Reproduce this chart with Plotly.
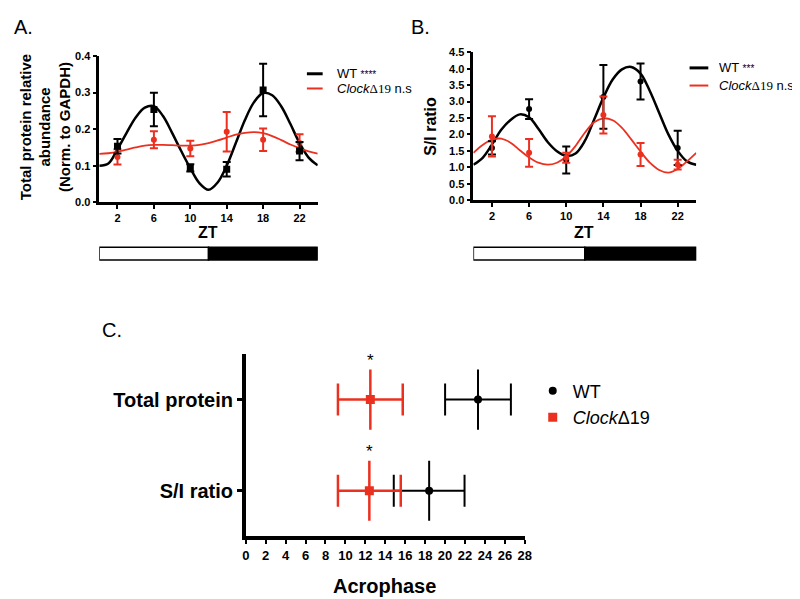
import plotly.graph_objects as go

W, H = 800, 599
RED = "#EC3020"

# ---------------- Panel A data (Total protein relative abundance) ----------------
zt = [2, 6, 10, 14, 18, 22]
a_wt = [0.153, 0.254, 0.094, 0.090, 0.307, 0.140]
a_wt_err = [0.020, 0.046, 0.010, 0.020, 0.072, 0.025]
a_ck = [0.124, 0.171, 0.147, 0.193, 0.171, 0.162]
a_ck_err = [0.021, 0.023, 0.021, 0.054, 0.031, 0.024]

fit_zt = list(range(0, 25))
a_wt_fit = [0.100, 0.106, 0.145, 0.190, 0.232, 0.259, 0.263, 0.236, 0.190, 0.140, 0.093, 0.052,
            0.034, 0.054, 0.100, 0.162, 0.225, 0.274, 0.299, 0.293, 0.262, 0.214, 0.162, 0.122, 0.101]
a_ck_fit = [0.132, 0.134, 0.138, 0.144, 0.150, 0.155, 0.157, 0.157, 0.156, 0.155, 0.155, 0.157,
            0.162, 0.169, 0.177, 0.185, 0.190, 0.192, 0.189, 0.181, 0.170, 0.158, 0.148, 0.139, 0.133]
a_legend = ["WT <span style='font-size:10px'>****</span>",
            "<i>Clock</i><span style='font-family:Liberation Serif'>Δ19</span> n.s"]

# ---------------- Panel B data (S/I ratio) ----------------
b_wt = [1.59, 2.77, 1.22, 3.14, 3.61, 1.59]
b_wt_err = [0.20, 0.30, 0.41, 0.97, 0.55, 0.52]
b_ck = [1.94, 1.44, 1.29, 2.59, 1.39, 1.08]
b_ck_err = [0.61, 0.42, 0.15, 0.56, 0.35, 0.15]

b_wt_fit = [1.08, 1.29, 1.69, 2.14, 2.44, 2.61, 2.52, 2.17, 1.77, 1.49, 1.35, 1.42,
            1.80, 2.45, 3.12, 3.67, 3.98, 4.05, 3.85, 3.32, 2.66, 2.00, 1.50, 1.18, 1.08]
b_ck_fit = [1.44, 1.68, 1.84, 1.87, 1.75, 1.52, 1.30, 1.14, 1.08, 1.14, 1.33, 1.65,
            2.05, 2.37, 2.49, 2.43, 2.20, 1.85, 1.48, 1.14, 0.92, 0.84, 0.95, 1.18, 1.44]
b_legend = ["WT <span style='font-size:10px'>***</span>",
            "<i>Clock</i><span style='font-family:Liberation Serif'>Δ19</span> n.s."]

# light / dark phases
ld_start = [0, 12]
ld_end = [12, 24]
ld_fill = ["white", "black"]

# ---------------- Panel C data (Acrophase) ----------------
c_cats = ["Total protein", "S/I ratio"]
c_pos = [2, 1]
c_wt = [23.3, 18.4]
c_wt_err = [3.3, 3.55]
c_ck = [12.5, 12.4]
c_ck_err = [3.25, 3.15]
c_vbar = [0.33, 0.33]
c_sig = ["*", "*"]

FONT = "Liberation Sans, Arial"
fig = go.Figure()

bold = dict(family=FONT, size=11, color="black", weight="bold")

# Panel A
fig.add_trace(go.Scatter(x=fit_zt, y=a_wt_fit, mode="lines", line=dict(color="black", width=2.5, shape="spline"),
                         showlegend=False, xaxis="x", yaxis="y"))
fig.add_trace(go.Scatter(x=fit_zt, y=a_ck_fit, mode="lines", line=dict(color=RED, width=1.8, shape="spline"),
                         showlegend=False, xaxis="x", yaxis="y"))
fig.add_trace(go.Scatter(x=zt, y=a_ck, mode="markers", marker=dict(color=RED, size=6, symbol="circle"),
                         error_y=dict(type="data", array=a_ck_err, color=RED, thickness=2, width=4),
                         showlegend=False, xaxis="x", yaxis="y"))
fig.add_trace(go.Scatter(x=zt, y=a_wt, mode="markers", marker=dict(color="black", size=7, symbol="square"),
                         error_y=dict(type="data", array=a_wt_err, color="black", thickness=2, width=4),
                         showlegend=False, xaxis="x", yaxis="y"))

# Panel B
fig.add_trace(go.Scatter(x=fit_zt, y=b_wt_fit, mode="lines", line=dict(color="black", width=2.5, shape="spline"),
                         showlegend=False, xaxis="x2", yaxis="y2"))
fig.add_trace(go.Scatter(x=fit_zt, y=b_ck_fit, mode="lines", line=dict(color=RED, width=1.8, shape="spline"),
                         showlegend=False, xaxis="x2", yaxis="y2"))
fig.add_trace(go.Scatter(x=zt, y=b_wt, mode="markers", marker=dict(color="black", size=6, symbol="circle"),
                         error_y=dict(type="data", array=b_wt_err, color="black", thickness=2, width=4),
                         showlegend=False, xaxis="x2", yaxis="y2"))
fig.add_trace(go.Scatter(x=zt, y=b_ck, mode="markers", marker=dict(color=RED, size=6, symbol="circle"),
                         error_y=dict(type="data", array=b_ck_err, color=RED, thickness=2, width=4),
                         showlegend=False, xaxis="x2", yaxis="y2"))

# Panel C
fig.add_trace(go.Scatter(x=c_wt, y=c_pos, mode="markers", marker=dict(color="black", size=8, symbol="circle"),
                         error_x=dict(type="data", array=c_wt_err, color="black", thickness=2, width=16),
                         error_y=dict(type="data", array=c_vbar, color="black", thickness=2, width=0),
                         name="WT", legend="legend", xaxis="x3", yaxis="y3"))
fig.add_trace(go.Scatter(x=c_ck, y=c_pos, mode="markers", marker=dict(color=RED, size=9, symbol="square"),
                         error_x=dict(type="data", array=c_ck_err, color=RED, thickness=2.5, width=16),
                         error_y=dict(type="data", array=c_vbar, color=RED, thickness=2.5, width=0),
                         name="<i>Clock</i>Δ19", legend="legend", xaxis="x3", yaxis="y3"))


def px_x(p):
    return p / W


def px_y(p):
    return 1 - p / H


axis_common = dict(showline=True, linecolor="black", showgrid=False, zeroline=False,
                   ticks="outside", tickcolor="black", mirror=False)

fig.update_layout(
    width=W, height=H,
    margin=dict(l=0, r=0, t=0, b=0),
    paper_bgcolor="white", plot_bgcolor="white",
    font=dict(family=FONT, color="black"),
    xaxis=dict(domain=[px_x(88.5), px_x(310)], range=[0, 24], tickvals=zt, anchor="y",
               linewidth=2.5, ticklen=4, tickwidth=2, tickfont=bold, **axis_common),
    yaxis=dict(domain=[px_y(192), px_y(43)], range=[0, 0.4], dtick=0.1, tickformat=".1f", anchor="x",
               linewidth=2.5, ticklen=4, tickwidth=2, tickfont=bold, **axis_common),
    xaxis2=dict(domain=[px_x(467.8), px_x(693.8)], range=[0, 24], tickvals=zt, anchor="y2",
                linewidth=2.5, ticklen=4, tickwidth=2, tickfont=bold, **axis_common),
    yaxis2=dict(domain=[px_y(190), px_y(39)], range=[0, 4.5], dtick=0.5, tickformat=".1f", anchor="x2",
                linewidth=2.5, ticklen=4, tickwidth=2, tickfont=bold, **axis_common),
    xaxis3=dict(domain=[px_x(237), px_x(520)], range=[0, 28], dtick=2, anchor="y3",
                linewidth=3.5, ticklen=4, tickwidth=2,
                tickfont=dict(family=FONT, size=13, color="black", weight="bold"),
                **axis_common),
    yaxis3=dict(domain=[px_y(533), px_y(347)], range=[0.5, 2.5], tickvals=c_pos, ticktext=c_cats, anchor="x3",
                linewidth=3.5, ticklen=5, tickwidth=3,
                tickfont=dict(family=FONT, size=20, color="black", weight="bold"),
                **axis_common),
    legend=dict(x=px_x(528), y=px_y(366), xanchor="left", yanchor="top", bgcolor="rgba(0,0,0,0)",
                font=dict(size=18, family=FONT), tracegroupgap=0, itemwidth=30),
)

# light/dark bars
for xr in ["x", "x2"]:
    for s, e, f in zip(ld_start, ld_end, ld_fill):
        fig.add_shape(type="rect", xref=xr, yref="paper", x0=s, x1=e, y0=px_y(251), y1=px_y(238),
                      fillcolor=f, line=dict(color="black", width=1.5), layer="above")

# manual legends for panels A and B
legend_specs = [
    (a_legend, 299, 315, 327, [61, 76]),
    (b_legend, 687, 706, 715, [55, 73]),
]
leg_colors = ["black", RED]
leg_widths = [3, 2]
for labels, lx0, lx1, tx, ys in legend_specs:
    for lab, yy, col, lw in zip(labels, ys, leg_colors, leg_widths):
        fig.add_shape(type="line", xref="paper", yref="paper", x0=px_x(lx0), x1=px_x(lx1),
                      y0=px_y(yy), y1=px_y(yy), line=dict(color=col, width=lw))
        fig.add_annotation(text=lab, x=px_x(tx), y=px_y(yy), xref="paper", yref="paper",
                           xanchor="left", yanchor="middle", showarrow=False,
                           font=dict(size=13, family=FONT, color="black"))

ann = []
# axis titles
ann.append(dict(text="<b>ZT</b>", x=px_x(199), y=px_y(223), font=dict(size=16)))
ann.append(dict(text="<b>ZT</b>", x=px_x(580), y=px_y(223), font=dict(size=16)))
ann.append(dict(text="<b>Total protein relative<br>abundance<br>(Norm. to GAPDH)</b>", x=px_x(33), y=px_y(116),
                textangle=-90, font=dict(size=15)))
ann.append(dict(text="<b>S/I ratio</b>", x=px_x(425), y=px_y(115), textangle=-90, font=dict(size=16)))
ann.append(dict(text="<b>Acrophase</b>", x=px_x(377.5), y=px_y(584), font=dict(size=20)))
# panel letters
ann.append(dict(text="A.", x=px_x(0), y=px_y(13), xanchor="left", font=dict(size=20)))
ann.append(dict(text="B.", x=px_x(403), y=px_y(13), xanchor="left", font=dict(size=20)))
ann.append(dict(text="C.", x=px_x(89), y=px_y(322), xanchor="left", font=dict(size=20)))

for a in ann:
    a.setdefault("xanchor", "center")
    a.update(xref="paper", yref="paper", yanchor="middle", showarrow=False)
    a["font"].update(family=FONT, color="black")
    fig.add_annotation(**a)

# significance stars
for xv, yv, vb, s in zip(c_ck, c_pos, c_vbar, c_sig):
    fig.add_annotation(text=s, x=xv, y=yv + vb, xref="x3", yref="y3", xanchor="center", yanchor="bottom",
                       showarrow=False, yshift=-2, font=dict(size=17, family=FONT, color="black"))

fig.write_html("out.html")
